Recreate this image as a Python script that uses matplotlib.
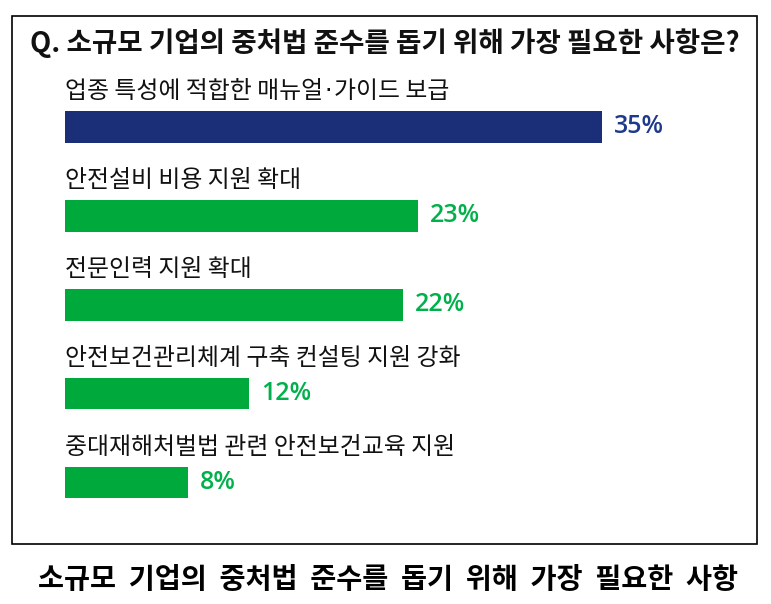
import matplotlib
matplotlib.use("Agg")
import matplotlib.pyplot as plt
from matplotlib.patches import Rectangle
from matplotlib.transforms import offset_copy

plt.rcParams['font.family'] = ['Noto Sans CJK KR', 'DejaVu Sans']

categories = [
    "업종 특성에 적합한 매뉴얼·가이드 보급",
    "안전설비 비용 지원 확대",
    "전문인력 지원 확대",
    "안전보건관리체계 구축 컨설팅 지원 강화",
    "중대재해처벌법 관련 안전보건교육 지원",
]
values = [35, 23, 22, 12, 8]
value_labels = ["35%", "23%", "22%", "12%", "8%"]
title = "Q. 소규모 기업의 중처법 준수를 돕기 위해 가장 필요한 사항은?"
caption_words = ["소규모", "기업의", "중처법", "준수를", "돕기", "위해", "가장", "필요한", "사항"]

NAVY = "#1b2e78"
GREEN = "#00a93c"
bar_colors = [NAVY, GREEN, GREEN, GREEN, GREEN]
text_colors = ["#1f3a8a", "#00b04a", "#00b04a", "#00b04a", "#00b04a"]

W, H = 771, 604
fig = plt.figure(figsize=(W / 100, H / 100), dpi=100)

# outer border box
fig.patches.append(Rectangle((12 / W, 1 - 544 / H), (757 - 12) / W, (544 - 16) / H,
                             transform=fig.transFigure, fill=False,
                             edgecolor="black", linewidth=1.2))

# title
fig.text(385 / W, 1 - 43 / H, title, ha="center", va="center",
         fontsize=19.9, fontweight="bold", color="#111111")

# caption
fig.text(388 / W, 1 - 580 / H, "  ".join(caption_words), ha="center", va="center",
         fontsize=20.4, fontweight="bold", color="#000000")

# bar axes
px_per_unit = 537 / 35
left_px = 65
ax_w_px = 690
top_px = 127 - 88.9 / 2
bot_px = 127 + 88.9 * 4.5
ax = fig.add_axes([left_px / W, 1 - bot_px / H, ax_w_px / W, (bot_px - top_px) / H])
ax.set_xlim(0, ax_w_px / px_per_unit)
ax.set_ylim(4.5, -0.5)
ax.axis("off")

ypos = list(range(len(categories)))
ax.barh(ypos, values, height=0.355, color=bar_colors, align="center")

renderer = fig.canvas.get_renderer()
LABEL_FS = 17.2


def draw_label(x, y, s):
    # split on middle dot so it can be drawn narrow in DejaVu Sans
    pieces = []
    parts = s.split("·")
    for k, p in enumerate(parts):
        if k > 0:
            pieces.append(("·", ["DejaVu Sans"]))
        pieces.append((p, ['Noto Sans CJK KR', 'DejaVu Sans']))
    dx = 0.0
    for txt, fam in pieces:
        tr = offset_copy(ax.transData, fig=fig, x=dx, y=0, units="dots")
        t = ax.text(x, y, txt, ha="left", va="center", fontsize=LABEL_FS,
                    color="#111111", family=fam, transform=tr)
        bb = t.get_window_extent(renderer=renderer)
        dx += bb.width + 1.5


for i, (cat, v, lab) in enumerate(zip(categories, values, value_labels)):
    draw_label(0, i - 0.40, cat)
    ax.annotate(lab, xy=(v, i), xytext=(12, 0), textcoords="offset pixels",
                ha="left", va="center", fontsize=18, fontweight="semibold",
                color=text_colors[i], family=["Open Sans", "DejaVu Sans"])

fig.savefig("out.png", dpi=100)
